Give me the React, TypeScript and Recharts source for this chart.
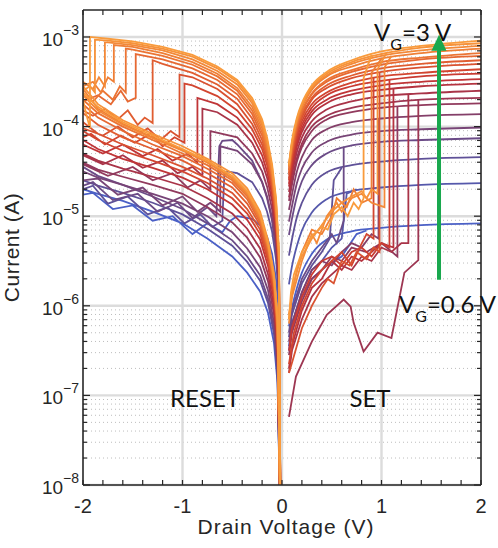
import {
  CartesianGrid,
  Line,
  LineChart,
  ReferenceDot,
  ReferenceLine,
  XAxis,
  YAxis,
} from "recharts";

// ---- axes ----
const xTicks = [-2, -1.8, -1.6, -1.4, -1.2, -1, -0.8, -0.6, -0.4, -0.2, 0, 0.2, 0.4, 0.6, 0.8, 1, 1.2, 1.4, 1.6, 1.8, 2];
const yMajor = [1e-8, 1e-7, 1e-6, 1e-5, 1e-4, 1e-3];
const yMinorMantissa = [2, 3, 4, 5, 6, 7, 8, 9];
const xGrid = [-1, 0, 1];

// colour per gate voltage, index 0 = VG 3 V (orange) ... 20 = VG 0.6 V (blue)
const palette = [
  "#f99b3c", "#f6923a", "#f38938", "#ef7f36", "#eb7434", "#e66933",
  "#e05d31", "#d95130", "#d24530", "#ca3b32", "#c03537", "#b5333f",
  "#a93448", "#9d3652", "#913a5d", "#843f69", "#784577", "#6b4b87",
  "#5f5198", "#5558ab", "#4b60c6",
];

// ---- SET side, low resistance sweeps (log10 of current) ----
const setLrsV = [0.07, 0.1, 0.15, 0.2, 0.3, 0.45, 0.7, 1.0, 1.4, 2.0];
const setLrsLog = [
  [-4.42, -4.16, -3.9, -3.74, -3.54, -3.39, -3.26, -3.16, -3.1, -3.04],
  [-4.43, -4.18, -3.92, -3.76, -3.56, -3.41, -3.28, -3.19, -3.12, -3.07],
  [-4.44, -4.19, -3.93, -3.77, -3.57, -3.43, -3.3, -3.21, -3.15, -3.1],
  [-4.45, -4.21, -3.95, -3.79, -3.59, -3.44, -3.33, -3.24, -3.18, -3.13],
  [-4.48, -4.24, -3.98, -3.82, -3.63, -3.48, -3.37, -3.28, -3.23, -3.18],
  [-4.49, -4.26, -4.0, -3.84, -3.64, -3.5, -3.39, -3.31, -3.25, -3.21],
  [-4.52, -4.29, -4.03, -3.87, -3.68, -3.54, -3.43, -3.35, -3.3, -3.26],
  [-4.54, -4.32, -4.06, -3.9, -3.7, -3.57, -3.46, -3.39, -3.34, -3.3],
  [-4.58, -4.36, -4.1, -3.94, -3.75, -3.62, -3.51, -3.44, -3.4, -3.36],
  [-4.6, -4.4, -4.14, -3.98, -3.79, -3.65, -3.55, -3.49, -3.44, -3.41],
  [-4.64, -4.44, -4.18, -4.02, -3.83, -3.7, -3.6, -3.54, -3.5, -3.47],
  [-4.67, -4.48, -4.22, -4.06, -3.87, -3.74, -3.64, -3.59, -3.55, -3.52],
  [-4.73, -4.54, -4.28, -4.12, -3.94, -3.81, -3.72, -3.66, -3.63, -3.6],
  [-4.79, -4.61, -4.35, -4.19, -4.0, -3.88, -3.79, -3.74, -3.7, -3.68],
  [-4.83, -4.65, -4.39, -4.23, -4.05, -3.92, -3.84, -3.79, -3.76, -3.74],
  [-4.93, -4.76, -4.5, -4.34, -4.15, -4.03, -3.95, -3.91, -3.88, -3.86],
  [-5.06, -4.89, -4.63, -4.47, -4.29, -4.17, -4.09, -4.05, -4.03, -4.01],
  [-5.21, -5.03, -4.78, -4.61, -4.43, -4.3, -4.21, -4.17, -4.15, -4.13],
  [-5.44, -5.26, -5.01, -4.85, -4.65, -4.51, -4.43, -4.39, -4.36, -4.34],
  [-5.76, -5.56, -5.33, -5.16, -4.96, -4.81, -4.72, -4.68, -4.65, -4.63],
  [-6.23, -6.03, -5.8, -5.63, -5.42, -5.26, -5.17, -5.13, -5.1, -5.08],
];

// ---- SET side, high resistance sweeps up to the set jump: [V, log10 I] ----
const setHrsColor = [1, 0, 2, 3, 7, 9, 8, 11, 12, 13, 14, 15, 17, 18, 19, 20];
const setHrsLog = [
  [[0.07, -6.15], [0.1, -5.85], [0.15, -5.6], [0.2, -5.45], [0.3, -5.25], [0.4, -5.1], [0.5, -4.95], [0.6, -4.85], [0.7, -4.78], [0.8, -4.72], [0.85, -4.8], [0.9, -4.7], [0.96, -4.75], [0.96, -3.36], [1.05, -3.18]],
  [[0.07, -6.15], [0.09, -5.85], [0.12, -5.65], [0.2, -5.4], [0.3, -5.22], [0.4, -5.12], [0.46, -5.15], [0.52, -4.98], [0.6, -4.9], [0.66, -5.0], [0.72, -4.85], [0.77, -4.92], [0.82, -4.8], [0.82, -3.46], [0.9, -3.2]],
  [[0.07, -6.2], [0.1, -5.9], [0.2, -5.5], [0.3, -5.2], [0.35, -5.3], [0.45, -5.0], [0.55, -4.85], [0.6, -4.95], [0.7, -4.8], [0.8, -4.75], [0.9, -4.85], [1.03, -4.9], [1.03, -3.34], [1.1, -3.21]],
  [[0.07, -6.1], [0.12, -5.75], [0.2, -5.4], [0.3, -5.15], [0.4, -5.2], [0.5, -5.0], [0.55, -4.8], [0.65, -4.9], [0.72, -4.7], [0.8, -4.85], [0.9, -4.8], [0.9, -3.4], [1.0, -3.24]],
  [[0.07, -6.75], [0.11, -6.6], [0.2, -6.25], [0.3, -6.0], [0.4, -5.8], [0.46, -5.7], [0.52, -5.75], [0.6, -5.5], [0.68, -5.55], [0.75, -5.4], [0.85, -5.48], [0.92, -5.35], [0.98, -5.4], [0.98, -3.39]],
  [[0.07, -6.5], [0.1, -6.25], [0.2, -5.9], [0.3, -5.65], [0.4, -5.5], [0.5, -5.45], [0.6, -5.55], [0.7, -5.4], [0.8, -5.35], [0.9, -5.45], [1.0, -5.3], [1.08, -5.35], [1.08, -3.48]],
  [[0.07, -6.65], [0.12, -6.3], [0.2, -6.0], [0.3, -5.75], [0.4, -5.6], [0.5, -5.5], [0.6, -5.4], [0.7, -5.55], [0.78, -5.35], [0.85, -5.2], [0.92, -5.25], [0.92, -3.45]],
  [[0.07, -6.7], [0.1, -6.45], [0.2, -6.05], [0.3, -5.8], [0.4, -5.7], [0.5, -5.5], [0.6, -5.6], [0.7, -5.45], [0.8, -5.5], [0.9, -5.4], [1.0, -5.3], [1.12, -5.35], [1.12, -3.58]],
  [[0.07, -6.75], [0.1, -6.5], [0.2, -6.15], [0.3, -5.9], [0.4, -5.75], [0.5, -5.65], [0.6, -5.55], [0.7, -5.6], [0.8, -5.45], [0.9, -5.5], [1.0, -5.35], [1.1, -5.4], [1.2, -5.3], [1.27, -5.3], [1.27, -3.64]],
  [[0.07, -7.24], [0.14, -6.79], [0.3, -6.4], [0.45, -6.1], [0.62, -5.93], [0.69, -6.01], [0.72, -6.19], [0.82, -6.51], [0.96, -6.3], [1.1, -6.36], [1.23, -5.63], [1.37, -5.49], [1.37, -3.7]],
  [[0.07, -6.55], [0.1, -6.3], [0.2, -5.95], [0.3, -5.7], [0.4, -5.6], [0.5, -5.45], [0.6, -5.5], [0.7, -5.35], [0.85, -5.4], [1.0, -5.3], [1.16, -5.45], [1.16, -3.78]],
  [[0.07, -6.4], [0.1, -6.2], [0.2, -5.85], [0.3, -5.6], [0.4, -5.5], [0.5, -5.55], [0.6, -5.4], [0.7, -5.3], [0.8, -5.35], [0.9, -5.2], [0.97, -5.25], [0.97, -3.91]],
  [[0.07, -6.3], [0.1, -6.05], [0.2, -5.7], [0.3, -5.5], [0.4, -5.35], [0.5, -5.2], [0.55, -5.3], [0.62, -5.05], [0.62, -4.24]],
  [[0.07, -6.35], [0.1, -6.1], [0.2, -5.75], [0.3, -5.55], [0.4, -5.4], [0.48, -5.25], [0.52, -4.6], [0.6, -4.46]],
  [[0.07, -6.45], [0.1, -6.2], [0.2, -5.85], [0.3, -5.6], [0.4, -5.5], [0.5, -5.35], [0.6, -5.25], [0.65, -4.75], [0.75, -4.7]],
  [[0.07, -6.5], [0.1, -6.25], [0.2, -5.9], [0.3, -5.7], [0.45, -5.55], [0.6, -5.45], [0.75, -5.2], [0.85, -5.16]],
];

// ---- RESET side cycles ----
const resetColor = [0, 1, 2, 3, 4, 5, 6, 7, 8, 10, 12, 14, 16, 17, 18, 20];
// going out along the low resistance branch (values on resetOutV, as far as the sweep got)
const resetOutV = [-0.015, -0.03, -0.06, -0.1, -0.15, -0.2, -0.3, -0.45, -0.65, -0.9, -1.2, -1.5, -1.75];
const resetOutLog = [
  [-8.5, -5.4, -4.8, -4.42, -4.12, -3.92, -3.68, -3.48, -3.33, -3.2, -3.11, -3.05, -3.02],
  [-8.5, -5.42, -4.83, -4.45, -4.15, -3.95, -3.71, -3.5, -3.35, -3.22, -3.13, -3.07, -3.04],
  [-8.5, -5.45, -4.86, -4.48, -4.18, -3.98, -3.74, -3.53, -3.38, -3.25, -3.15, -3.09, -3.06],
  [-8.5, -5.48, -4.9, -4.52, -4.22, -4.02, -3.78, -3.57, -3.41, -3.28, -3.18, -3.11],
  [-8.5, -5.5, -4.93, -4.55, -4.26, -4.06, -3.82, -3.6, -3.44, -3.31, -3.21, -3.14],
  [-8.5, -5.52, -4.96, -4.58, -4.3, -4.1, -3.86, -3.64, -3.48, -3.35, -3.25],
  [-8.5, -5.55, -5.0, -4.62, -4.34, -4.15, -3.91, -3.69, -3.53, -3.4, -3.3],
  [-8.5, -5.58, -5.03, -4.66, -4.38, -4.2, -3.97, -3.75, -3.58, -3.45],
  [-8.5, -5.6, -5.06, -4.7, -4.43, -4.25, -4.03, -3.82, -3.66, -3.54],
  [-8.5, -5.65, -5.12, -4.76, -4.5, -4.32, -4.1, -3.9, -3.75],
  [-8.5, -5.7, -5.18, -4.83, -4.57, -4.4, -4.18, -3.98, -3.84],
  [-8.5, -5.78, -5.26, -4.92, -4.67, -4.5, -4.3, -4.12],
  [-8.5, -5.85, -5.35, -5.02, -4.78, -4.62, -4.42, -4.27],
  [-8.5, -5.88, -5.38, -5.05, -4.8, -4.62, -4.38, -4.2],
  [-8.5, -5.95, -5.48, -5.17, -4.95, -4.8, -4.62, -4.52],
  [-8.5, -6.1, -5.7, -5.42, -5.23, -5.12, -5.03, -5.0],
];
// reset drop and the noisy high resistance part out to -2 V: [V, log10 I]
const resetDropLog = [
  [[-1.93, -3.0], [-1.93, -4.02], [-1.97, -3.85], [-2, -3.7]],
  [[-1.88, -3.03], [-1.88, -3.62], [-1.93, -3.55], [-2, -3.6]],
  [[-1.78, -3.06], [-1.78, -3.55], [-1.84, -3.45], [-1.9, -3.58], [-2, -3.5]],
  [[-1.69, -3.09], [-1.69, -3.5], [-1.75, -3.45], [-1.82, -3.62], [-1.9, -3.5], [-2, -3.55]],
  [[-1.57, -3.13], [-1.57, -3.62], [-1.63, -3.55], [-1.7, -3.7], [-1.8, -3.6], [-1.9, -3.72], [-2, -3.65]],
  [[-1.47, -3.19], [-1.47, -3.68], [-1.55, -3.72], [-1.62, -3.6], [-1.72, -3.75], [-1.85, -3.65], [-2, -3.72]],
  [[-1.3, -3.26], [-1.3, -3.96], [-1.38, -3.9], [-1.45, -3.98], [-1.55, -3.82], [-1.65, -3.92], [-1.78, -3.8], [-1.9, -3.88], [-2, -3.82]],
  [[-1.03, -3.42], [-1.03, -4.12], [-1.12, -4.05], [-1.22, -4.15], [-1.35, -4.02], [-1.5, -4.12], [-1.65, -4.0], [-1.8, -4.1], [-2, -4.02]],
  [[-0.98, -3.52], [-0.98, -4.18], [-1.08, -4.12], [-1.2, -4.22], [-1.32, -4.08], [-1.48, -4.18], [-1.62, -4.1], [-1.78, -4.2], [-1.92, -4.08], [-2, -4.12]],
  [[-0.85, -3.68], [-0.85, -4.4], [-0.95, -4.3], [-1.1, -4.38], [-1.25, -4.25], [-1.4, -4.33], [-1.6, -4.2], [-1.8, -4.3], [-2, -4.2]],
  [[-0.8, -3.8], [-0.8, -4.55], [-0.9, -4.45], [-1.05, -4.52], [-1.2, -4.38], [-1.4, -4.46], [-1.6, -4.32], [-1.8, -4.42], [-2, -4.32]],
  [[-0.72, -4.05], [-0.72, -4.7], [-0.82, -4.6], [-0.95, -4.68], [-1.1, -4.52], [-1.3, -4.6], [-1.5, -4.45], [-1.75, -4.55], [-2, -4.42]],
  [[-0.62, -4.22], [-0.62, -4.95], [-0.72, -4.85], [-0.85, -4.95], [-1.0, -4.78], [-1.2, -4.88], [-1.4, -4.68], [-1.65, -4.76], [-1.85, -4.58], [-2, -4.6]],
  [[-0.5, -4.15], [-0.6, -4.16], [-0.63, -4.22], [-0.66, -5.0], [-0.75, -4.9], [-0.9, -5.02], [-1.05, -4.85], [-1.25, -4.95], [-1.45, -4.75], [-1.7, -4.82], [-1.9, -4.62], [-2, -4.66]],
  [[-0.55, -4.5], [-0.58, -4.55], [-0.6, -5.05], [-0.7, -5.12], [-0.82, -4.98], [-0.98, -5.08], [-1.15, -4.9], [-1.35, -4.98], [-1.55, -4.78], [-1.75, -4.86], [-1.9, -4.66], [-2, -4.7]],
  [[-0.52, -5.05], [-0.6, -5.18], [-0.75, -5.08], [-0.9, -5.2], [-1.1, -5.0], [-1.3, -5.05], [-1.5, -4.88], [-1.7, -4.92], [-1.9, -4.74], [-2, -4.76]],
];
// sweeping back from -2 V to 0 on the high resistance branch
const resetBackV = [-2, -1.85, -1.6, -1.3, -1.0, -0.75, -0.5, -0.35, -0.22, -0.14, -0.08, -0.045, -0.015];
const resetBackLog = [
  [-3.62, -3.78, -3.95, -4.1, -4.25, -4.38, -4.55, -4.72, -4.98, -5.3, -5.68, -6.15, -8.5],
  [-3.55, -3.75, -3.93, -4.08, -4.22, -4.36, -4.52, -4.69, -4.95, -5.27, -5.64, -6.1, -8.5],
  [-3.65, -3.82, -3.98, -4.13, -4.27, -4.4, -4.57, -4.74, -5.0, -5.32, -5.7, -6.18, -8.5],
  [-3.58, -3.8, -3.97, -4.12, -4.26, -4.4, -4.58, -4.76, -5.02, -5.34, -5.72, -6.2, -8.5],
  [-3.7, -3.85, -4.0, -4.15, -4.3, -4.43, -4.6, -4.78, -5.04, -5.36, -5.74, -6.22, -8.5],
  [-3.75, -3.9, -4.05, -4.2, -4.33, -4.47, -4.63, -4.81, -5.07, -5.38, -5.76, -6.25, -8.5],
  [-3.85, -3.98, -4.12, -4.25, -4.38, -4.52, -4.68, -4.86, -5.1, -5.42, -5.8, -6.28, -8.5],
  [-3.95, -4.08, -4.2, -4.32, -4.45, -4.58, -4.74, -4.92, -5.15, -5.46, -5.84, -6.32, -8.5],
  [-4.05, -4.15, -4.27, -4.38, -4.5, -4.63, -4.8, -4.97, -5.2, -5.5, -5.88, -6.36, -8.5],
  [-4.15, -4.25, -4.36, -4.46, -4.57, -4.7, -4.87, -5.04, -5.26, -5.56, -5.94, -6.42, -8.5],
  [-4.3, -4.38, -4.47, -4.56, -4.66, -4.8, -4.97, -5.14, -5.36, -5.65, -6.02, -6.5, -8.5],
  [-4.4, -4.48, -4.56, -4.65, -4.75, -4.9, -5.07, -5.24, -5.46, -5.73, -6.1, -6.58, -8.5],
  [-4.5, -4.57, -4.65, -4.75, -4.86, -5.0, -5.18, -5.36, -5.57, -5.83, -6.2, -6.65, -8.5],
  [-4.45, -4.55, -4.65, -4.78, -4.92, -5.08, -5.27, -5.45, -5.66, -5.92, -6.27, -6.72, -8.5],
  [-4.6, -4.66, -4.74, -4.85, -4.98, -5.14, -5.33, -5.51, -5.72, -5.97, -6.32, -6.78, -8.5],
  [-4.7, -4.75, -4.83, -4.95, -5.08, -5.25, -5.45, -5.63, -5.84, -6.08, -6.42, -6.86, -8.5],
];

const AXIS = "#262626";
const AXIS_FONT = "'Liberation Sans', Arial, Helvetica, sans-serif";
const NOTE_FONT = "Lato, 'Open Sans', sans-serif";
const ARROW = "#19a84e";
const W = 498;
const H = 548;
const PLOT = { left: 83, right: 481, top: 10, bottom: 485 };

const yMinor = yMajor
  .flatMap((d) => yMinorMantissa.map((m) => m * d))
  .filter((v) => v < 1.99e-3);
const yTicks = [...yMajor, ...yMinor].sort((a, b) => a - b);

const pts = (pairs: number[][]) => pairs.map(([x, e]) => ({ x, y: Math.pow(10, e) }));

type Curve = { key: string; color: number; data: { x: number; y: number }[]; smooth?: boolean };

function buildCurves(): Curve[] {
  const out: Curve[] = [];
  setLrsLog.forEach((row, i) => {
    out.push({ key: `lrs${i}`, color: i, smooth: true, data: pts(row.map((e, k) => [setLrsV[k], e])) });
  });
  setHrsLog.forEach((pairs, j) => {
    out.push({ key: `hrs${j}`, color: setHrsColor[j], data: pts(pairs) });
  });
  resetOutLog.forEach((row, j) => {
    const go = row.map((e, k) => [resetOutV[k], e]);
    const back = resetBackLog[j].map((e, k) => [resetBackV[k], e]);
    out.push({ key: `rst${j}`, color: resetColor[j], data: pts([...go, ...resetDropLog[j], ...back]) });
  });
  // blue drawn first, orange last (on top)
  return out.sort((a, b) => b.color - a.color);
}

const curves = buildCurves();

function XTick({ x, payload }: any) {
  const v = payload.value;
  const major = Number.isInteger(v);
  return (
    <g>
      <line x1={x} x2={x} y1={PLOT.bottom} y2={PLOT.bottom - 5} stroke={AXIS} strokeWidth={1.2} />
      <line x1={x} x2={x} y1={PLOT.top} y2={PLOT.top + 5} stroke={AXIS} strokeWidth={1.2} />
      {major && (
        <text x={x} y={PLOT.bottom + 28} textAnchor="middle" fontSize={20} fill={AXIS} fontFamily={AXIS_FONT}>
          {v}
        </text>
      )}
    </g>
  );
}

function YTick({ y, payload }: any) {
  const v = payload.value;
  const major = yMajor.includes(v);
  const len = major ? 7 : 4;
  const exp = Math.round(Math.log10(v));
  return (
    <g>
      <line x1={PLOT.left} x2={PLOT.left + len} y1={y} y2={y} stroke={AXIS} strokeWidth={1.2} />
      <line x1={PLOT.right} x2={PLOT.right - len} y1={y} y2={y} stroke={AXIS} strokeWidth={1.2} />
      {major && (
        <text x={PLOT.left - 4} y={y + 9} textAnchor="end" fontSize={19} fill={AXIS} fontFamily={AXIS_FONT}>
          10
          <tspan dy={-11} fontSize={14}>{`\u2212${-exp}`}</tspan>
        </text>
      )}
    </g>
  );
}

const noteText = (main: string, sub?: string, rest?: string) => (props: any) => (
  <text x={props.cx} y={props.cy} fontSize={24} fill="#111" fontFamily={NOTE_FONT} textAnchor={sub ? "start" : "middle"}>
    {main}
    {sub && (
      <tspan dy={9} fontSize={16}>
        {sub}
      </tspan>
    )}
    {rest && <tspan dy={-9}>{rest}</tspan>}
  </text>
);

const arrowHead = (props: any) => (
  <polygon
    points={`${props.cx},${props.cy - 1} ${props.cx - 7.5},${props.cy + 15} ${props.cx + 7.5},${props.cy + 15}`}
    fill={ARROW}
  />
);

export default function App() {
  return (
    <div style={{ width: W, height: H, position: "relative", background: "#fff" }}>
      <style>{`body { margin: 0; }`}</style>
      <LineChart width={W} height={H} margin={{ top: PLOT.top, right: W - PLOT.right, bottom: 0, left: 0 }}>
        <CartesianGrid
          horizontalValues={yMinor}
          vertical={false}
          stroke="#bdbdbd"
          strokeDasharray="1 3"
          strokeWidth={1}
        />
        <CartesianGrid horizontalValues={yMajor} verticalValues={xGrid} stroke="#dcdcdc" strokeWidth={2.4} />
        <XAxis
          dataKey="x"
          type="number"
          domain={[-2, 2]}
          ticks={xTicks}
          interval={0}
          allowDataOverflow
          height={H - PLOT.bottom}
          tickSize={0}
          tickMargin={0}
          tick={(p: any) => <XTick {...p} />}
          tickLine={false}
          axisLine={{ stroke: AXIS, strokeWidth: 1.6 }}
          label={{
            value: "Drain Voltage (V)",
            position: "insideBottom",
            offset: 14,
            fill: AXIS,
            fontSize: 21,
            fontFamily: AXIS_FONT,
            style: { letterSpacing: 1 },
            dx: 4,
          }}
        />
        <YAxis
          dataKey="y"
          type="number"
          scale="log"
          domain={[1e-8, 2e-3]}
          ticks={yTicks}
          interval={0}
          allowDataOverflow
          width={PLOT.left}
          tickSize={0}
          tickMargin={0}
          tick={(p: any) => <YTick {...p} />}
          tickLine={false}
          axisLine={{ stroke: AXIS, strokeWidth: 1.6 }}
          label={{
            value: "Current (A)",
            angle: -90,
            position: "insideLeft",
            offset: 12,
            fill: AXIS,
            fontSize: 21,
            fontFamily: AXIS_FONT,
            style: { textAnchor: "middle", letterSpacing: 0.5 },
          }}
        />
        {curves.map((c) => (
          <Line
            key={c.key}
            data={c.data}
            dataKey="y"
            type={c.smooth ? "monotone" : "linear"}
            stroke={palette[c.color]}
            strokeWidth={1.8}
            dot={false}
            activeDot={false}
            isAnimationActive={false}
          />
        ))}
        <ReferenceLine y={2e-3} stroke={AXIS} strokeWidth={1.6} />
        <ReferenceLine x={2} stroke={AXIS} strokeWidth={1.6} />
        <ReferenceLine
          segment={[
            { x: 1.578, y: 1.95e-6 },
            { x: 1.578, y: 8.6e-4 },
          ]}
          stroke={ARROW}
          strokeWidth={4}
        />
        <ReferenceDot x={1.578} y={1.03e-3} r={1} shape={arrowHead} />
        <ReferenceDot x={-0.774} y={7.36e-8} r={1} shape={noteText("RESET")} />
        <ReferenceDot x={0.884} y={7.36e-8} r={1} shape={noteText("SET")} />
        <ReferenceDot x={0.925} y={9.0e-4} r={1} shape={noteText("V", "G", "=3 V")} />
        <ReferenceDot x={1.176} y={8.36e-7} r={1} shape={noteText("V", "G", "=0.6 V")} />
      </LineChart>
    </div>
  );
}
